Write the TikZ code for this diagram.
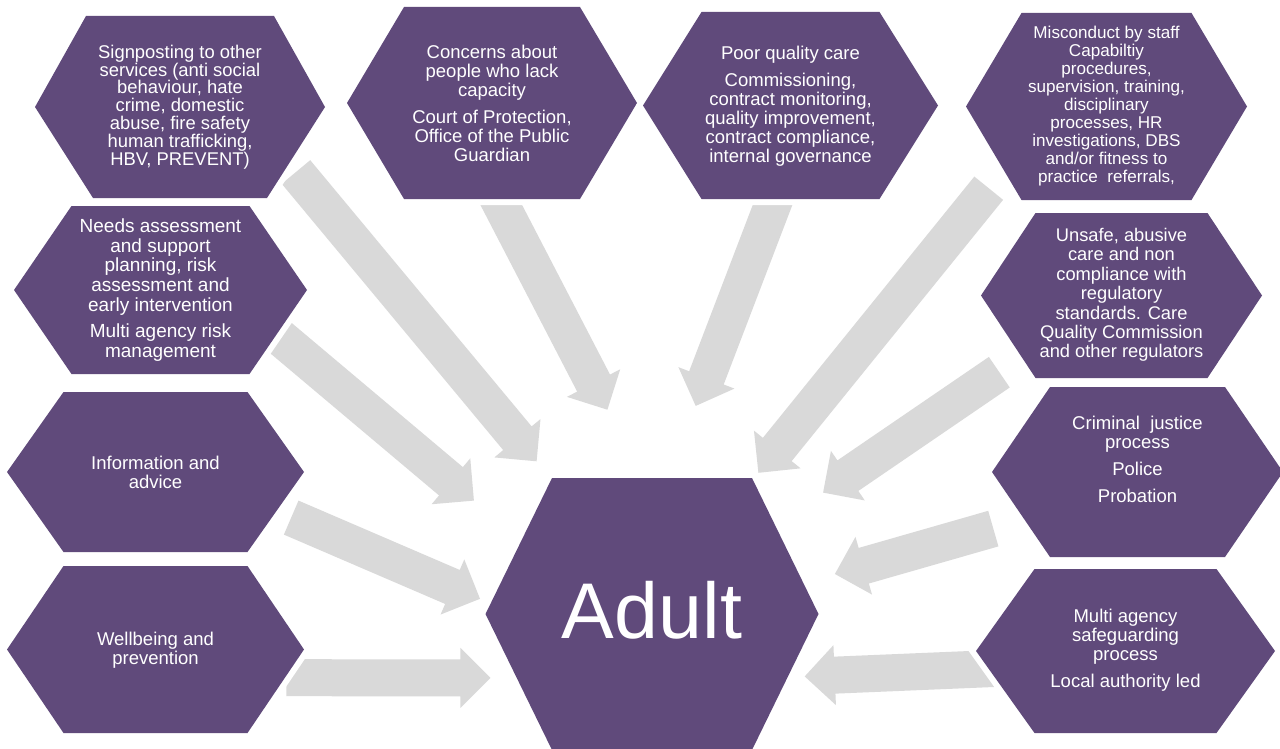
\documentclass[tikz,border=0pt]{standalone}
\usepackage{fontspec}
\setmainfont{Liberation Sans}
\usetikzlibrary{calc}
\definecolor{hexpurple}{HTML}{604A7B}
\definecolor{arrgrey}{HTML}{D9D9D9}
\tikzset{
  hexfill/.style={fill=hexpurple, preaction={draw=white, line width=12pt, line join=miter}},
  arrfill/.style={fill=arrgrey},
  hextext/.style={text=white, align=center, inner sep=0pt, font=\fontsize{18.5}{19}\selectfont},
}
% cx cy hw httop htbot hh
\newcommand{\hexshape}[6]{%
  \path[hexfill] (#1-#3,#2) -- (#1-#4,#2-#6) -- (#1+#4,#2-#6) -- (#1+#3,#2) -- (#1+#5,#2+#6) -- (#1-#5,#2+#6) -- cycle;
}
% tail tip (coordinate names)
\newcommand{\blockarrow}[2]{%
  \coordinate (#1#2s) at ($(#2)!30pt!(#1)$);
  \fill[arrfill] ($(#1)!18.5pt!90:(#2)$) -- ($(#1#2s)!18.5pt!90:(#2)$) -- ($(#1#2s)!30pt!90:(#2)$) -- (#2)
    -- ($(#1#2s)!30pt!-90:(#2)$) -- ($(#1#2s)!18.5pt!-90:(#2)$) -- ($(#1)!18.5pt!-90:(#2)$) -- cycle;
}
\begin{document}
\begin{tikzpicture}[x=1pt,y=-1pt]
\useasboundingbox (0,0) rectangle (1280,749);
\fill[white] (0,0) rectangle (1280,749);
% arrow end points
\coordinate (a1t) at (296.0,172.0);  \coordinate (a1h) at (536.6,461.3);
\coordinate (a2t) at (488.3,180.0);  \coordinate (a2h) at (607.4,409.7);
\coordinate (a3t) at (782.1,180.0);  \coordinate (a3h) at (695.7,405.9);
\coordinate (a4t) at (988.7,188.2);  \coordinate (a4h) at (758.4,472.8);
\coordinate (a5t) at (999.3,372.2);  \coordinate (a5h) at (823.1,492.6);
\coordinate (a6t) at (993.3,528.6);  \coordinate (a6h) at (834.9,574.0);
\coordinate (a7t) at (1020.0,667.4); \coordinate (a7h) at (804.7,676.4);
\coordinate (a8t) at (286.5,677.7);  \coordinate (a8h) at (490.4,677.9);
\coordinate (a9t) at (291.2,517.6);  \coordinate (a9h) at (480.0,598.8);
\coordinate (a10t) at (267.4,326.7); \coordinate (a10h) at (473.9,500.6);
\blockarrow{a1t}{a1h}
\blockarrow{a2t}{a2h}
\blockarrow{a3t}{a3h}
\blockarrow{a4t}{a4h}
\blockarrow{a5t}{a5h}
\blockarrow{a6t}{a6h}
\blockarrow{a7t}{a7h}
\blockarrow{a8t}{a8h}
\blockarrow{a9t}{a9h}
\blockarrow{a10t}{a10h}
% hexagons
\hexshape{180}{107}{145}{94}{87}{91}
\hexshape{492}{103}{145}{88}{88}{96}
\hexshape{790.5}{105.5}{147.5}{89}{89}{93.5}
\hexshape{1106.5}{106.5}{140.5}{85}{85}{93.5}
\hexshape{1121.5}{295.5}{140.5}{86}{86}{82.5}
\hexshape{160.5}{290}{146.5}{89}{89}{84}
\hexshape{155.5}{472}{148.5}{92}{92}{80}
\hexshape{155.5}{649.5}{148.5}{92}{92}{83.5}
\hexshape{1137.5}{472}{145.5}{87.5}{87.5}{85}
\hexshape{1125.5}{651}{149.5}{91}{91}{82}
\hexshape{652}{614}{166.5}{100}{100}{136}
% texts
\node[hextext, font=\fontsize{18.4}{17.8}\selectfont] (sign) at (180,107) {Signposting to other\\services (anti social\\behaviour, hate\\crime, domestic\\abuse, fire safety\\human trafficking,\\HBV, PREVENT)};
\node[hextext] (concern) at (492,103) {Concerns about\\people who lack\\capacity\\[8pt]Court of Protection,\\Office of the Public\\Guardian};
\node[hextext] (poor) at (790.5,106) {Poor quality care\\[8pt]Commissioning,\\contract monitoring,\\quality improvement,\\contract compliance,\\internal governance};
\node[hextext, font=\fontsize{17.1}{18}\selectfont] (misc) at (1106.5,106) {Misconduct by staff\\Capabiltiy\\procedures,\\supervision, training,\\disciplinary\\processes, HR\\investigations, DBS\\and/or fitness to\\practice\ \ referrals,};
\node[hextext, font=\fontsize{18.3}{19.4}\selectfont] (unsafe) at (1121.5,295) {Unsafe, abusive\\care and non\\compliance with\\regulatory\\standards. Care\\Quality Commission\\and other regulators};
\node[hextext, font=\fontsize{19}{19.6}\selectfont] (needs) at (160.5,290) {Needs assessment\\and support\\planning, risk\\assessment and\\early intervention\\[7pt]Multi agency risk\\management};
\node[hextext] (info) at (155.5,472) {Information and\\advice};
\node[hextext] (well) at (155.5,650) {Wellbeing and\\prevention};
\node[hextext] (crim) at (1137.5,459) {Criminal\ \ justice\\process\\[8pt]Police\\[8pt]Probation};
\node[hextext] (multi) at (1125.5,650) {Multi agency\\safeguarding\\process\\[8pt]Local authority led};
\node[hextext, font=\fontsize{79}{79}\selectfont] (adult) at (652,610) {Adult};
\end{tikzpicture}
\end{document}
